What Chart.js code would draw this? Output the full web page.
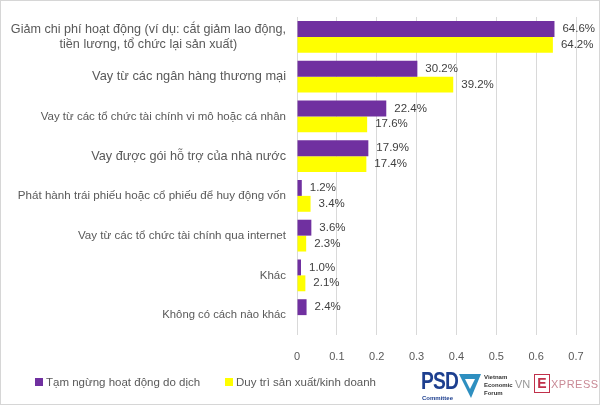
<!DOCTYPE html>
<html>
<head>
<meta charset="utf-8">
<script src="https://cdn.jsdelivr.net/npm/chart.js@4"></script>
<style>
  body { margin: 0; background: #fff; font-family: "Liberation Sans", Arial, sans-serif; }
  #wrap { position: relative; width: 600px; height: 405px; box-sizing: border-box; border: 1px solid #d6d6d6; }
  #legend { position: absolute; left: 34px; top: 375px; font-size: 11.5px; color: #595959; }
  #legend span.item { position: absolute; white-space: nowrap; }
  #legend i { display: inline-block; width: 8px; height: 8px; margin-right: 3px; vertical-align: 0px; }
  .logo { position: absolute; white-space: nowrap; }
</style>
</head>
<body>
<div id="wrap">
  <canvas id="chart"></canvas>
  <div id="legend"></div>
  <div class="logo" style="left:420px;top:366px;font:bold 24px 'Liberation Sans Narrow','Liberation Sans';color:#1d3f8f;transform:scaleX(0.8);transform-origin:left;letter-spacing:-1px">PSD</div>
  <div class="logo" style="left:421px;top:394px;font:bold 6px 'Liberation Sans';color:#1d3f8f">Committee</div>
  <svg class="logo" style="left:457px;top:371px" width="24" height="27"><polygon points="1,2 23,2 13,26" fill="#2e8fc0"/><polygon points="7,7 17,7 12,17" fill="#fff"/></svg>
  <div class="logo" style="left:483px;top:372px;font:bold 6px/8px 'Liberation Sans';color:#333">Vietnam<br>Economic<br>Forum</div>
  <div class="logo" style="left:514px;top:377px;font:11px 'Liberation Sans';color:#999">VN</div>
  <div class="logo" style="left:533px;top:373px;width:14px;height:17px;border:1px solid #c0304a;font:bold 14px/17px 'Liberation Sans';color:#c0304a;text-align:center">E</div>
  <div class="logo" style="left:550px;top:377px;font:11px 'Liberation Sans';color:#c98a96;letter-spacing:0.5px">XPRESS</div>
</div>
<script>
// categories (top to bottom)
var categories = [
  ["Giảm chi phí hoạt động (ví dụ: cắt giảm lao động,", "tiền lương, tổ chức lại sản xuất)"],
  ["Vay từ các ngân hàng thương mại"],
  ["Vay từ các tổ chức tài chính vi mô hoặc cá nhân"],
  ["Vay được gói hỗ trợ của nhà nước"],
  ["Phát hành trái phiếu hoặc cổ phiếu để huy động vốn"],
  ["Vay từ các tổ chức tài chính qua internet"],
  ["Khác"],
  ["Không có cách nào khác"]
];
var pausedLabel = "Tạm ngừng hoạt động do dịch";
var pausedValues = [0.646, 0.302, 0.224, 0.179, 0.012, 0.036, 0.010, 0.024];
var keptLabel = "Duy trì sản xuất/kinh doanh";
var keptValues = [0.642, 0.392, 0.176, 0.174, 0.034, 0.023, 0.021, null];
var xTickLabels = ["0", "0.1", "0.2", "0.3", "0.4", "0.5", "0.6", "0.7"];

var labelSizes = [12.6, 12.8, 11.5, 12.7, 11.6, 11.6, 11.5, 11.3];
var textColor = '#595959';

// category labels drawn by hand so the two-line one can be centred
var catLabels = {
  id: 'catLabels',
  afterDraw: function(chart) {
    var ctx = chart.ctx, y = chart.scales.y;
    var right = chart.chartArea.left - 11;
    ctx.save();
    ctx.fillStyle = textColor;
    ctx.textBaseline = 'middle';
    categories.forEach(function(lines, i) {
      ctx.font = labelSizes[i] + 'px "Liberation Sans"';
      var cy = y.getPixelForTick(i);
      var lh = labelSizes[i] * 1.2;
      var widest = Math.max.apply(null, lines.map(function(l){ return ctx.measureText(l).width; }));
      lines.forEach(function(line, k) {
        var ly = cy + (k - (lines.length - 1) / 2) * lh;
        if (lines.length > 1) {
          ctx.textAlign = 'center';
          ctx.fillText(line, right - widest / 2, ly);
        } else {
          ctx.textAlign = 'right';
          ctx.fillText(line, right, ly);
        }
      });
    });
    ctx.restore();
  }
};

// value labels after the bars
var valueLabels = {
  id: 'valueLabels',
  afterDatasetsDraw: function(chart) {
    var ctx = chart.ctx;
    ctx.save();
    ctx.fillStyle = '#404040';
    ctx.font = '11.5px "Liberation Sans"';
    ctx.textAlign = 'left';
    ctx.textBaseline = 'middle';
    chart.data.datasets.forEach(function(ds, d) {
      chart.getDatasetMeta(d).data.forEach(function(bar, i) {
        var v = ds.data[i];
        if (v == null) return;
        ctx.fillText((v * 100).toFixed(1) + '%', bar.x + 8, bar.y);
      });
    });
    ctx.restore();
  }
};

var chart = new Chart(document.getElementById('chart'), {
  type: 'bar',
  data: {
    labels: categories,
    datasets: [
      { label: pausedLabel, data: pausedValues, backgroundColor: '#7030a0' },
      { label: keptLabel, data: keptValues, backgroundColor: '#ffff00' }
    ]
  },
  options: {
    indexAxis: 'y',
    responsive: true,
    maintainAspectRatio: false,
    animation: false,
    categoryPercentage: 0.8,
    barPercentage: 1.0,
    layout: { padding: { left: 9, right: 23, top: 16, bottom: 39 } },
    plugins: {
      legend: { display: false },
      tooltip: { enabled: false }
    },
    scales: {
      x: {
        min: 0,
        max: 0.7,
        ticks: {
          stepSize: 0.1,
          padding: 15,
          color: textColor,
          font: { family: 'Liberation Sans', size: 11 },
          callback: function(value, index) { return xTickLabels[index]; }
        },
        grid: { color: '#d9d9d9', drawTicks: false },
        border: { display: false },
        afterFit: function(s) { s.height = 30; }
      },
      y: {
        ticks: { display: false },
        grid: { display: false },
        border: { display: false },
        afterFit: function(s) { s.width = 287; }
      }
    }
  },
  plugins: [catLabels, valueLabels]
});

// legend
var legend = document.getElementById('legend');
var offsets = [0, 190];
chart.data.datasets.forEach(function(ds, i) {
  var s = document.createElement('span');
  s.className = 'item';
  s.style.left = offsets[i] + 'px';
  s.innerHTML = '<i style="background:' + ds.backgroundColor + '"></i>' + ds.label;
  legend.appendChild(s);
});
</script>
</body>
</html>
